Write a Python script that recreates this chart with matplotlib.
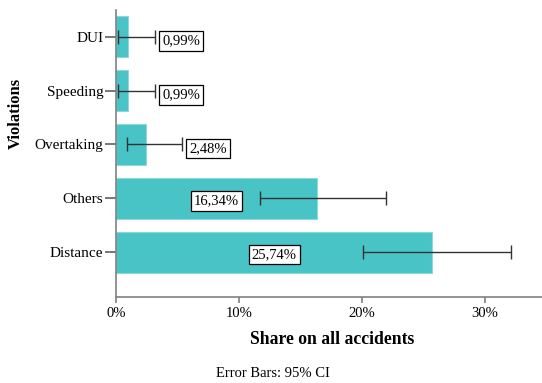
import matplotlib
matplotlib.use("Agg")
import matplotlib.pyplot as plt
import numpy as np

categories = ["Distance", "Others", "Overtaking", "Speeding", "DUI"]
shares = [25.74, 16.34, 2.48, 0.99, 0.99]
ci_low = [20.1, 11.7, 0.9, 0.2, 0.2]
ci_high = [32.1, 22.0, 5.4, 3.2, 3.2]
value_labels = ["25,74%", "16,34%", "2,48%", "0,99%", "0,99%"]
x_ticks = [0, 10, 20, 30]
x_tick_labels = ["0%", "10%", "20%", "30%"]

plt.rcParams["font.family"] = ["Liberation Serif", "DejaVu Serif"]

fig = plt.figure(figsize=(5.42, 3.83), dpi=100)
ax = fig.add_axes([0.214, 0.2253, 0.786, 0.7487])

pos = np.arange(len(categories))
bar_color = "#48C3C6"
ax.barh(pos, shares, height=0.76, color=bar_color, edgecolor="#8ed8da",
        linewidth=0.8, zorder=2)

shares_a = np.array(shares)
xerr = np.vstack([shares_a - np.array(ci_low), np.array(ci_high) - shares_a])
ax.errorbar(shares, pos, xerr=xerr, fmt="none", ecolor="#333333",
            elinewidth=1.0, capsize=5, capthick=1.0, zorder=3)

box = dict(boxstyle="square,pad=0.22", facecolor="white", edgecolor="black", linewidth=0.9)
for i, (v, hi, lab) in enumerate(zip(shares, ci_high, value_labels)):
    if v > 10:
        ax.text(v / 2, pos[i] - 0.05, lab, ha="center", va="center",
                fontsize=10.5, bbox=box, zorder=4)
    else:
        ax.text(hi + 0.55, pos[i] - 0.08, lab, ha="left", va="center",
                fontsize=10.5, bbox=box, zorder=4)

ax.set_yticks(pos)
ax.set_yticklabels(categories, fontsize=11)
ax.set_xticks(x_ticks)
ax.set_xticklabels(x_tick_labels, fontsize=10.5)
ax.set_xlim(0, 34.65)
ax.set_ylim(-0.83, 4.5)

for side in ["top", "right"]:
    ax.spines[side].set_visible(False)
for side in ["left", "bottom"]:
    ax.spines[side].set_color("#808080")
    ax.spines[side].set_linewidth(1.2)
ax.tick_params(axis="y", length=8, width=1.2, color="#606060", pad=1)
ax.tick_params(axis="x", length=4.5, width=1.2, color="#808080", pad=3)

ax.set_xlabel("Share on all accidents", fontsize=12.7, fontweight="bold")
ax.xaxis.set_label_coords(0.507, -0.1475)
ax.xaxis.label.set_va("center")
ax.set_ylabel("Violations", fontsize=12, fontweight="bold")
ax.yaxis.set_label_coords(-0.2347, 0.639)
ax.yaxis.label.set_va("center")

fig.text(0.503, 0.0235, "Error Bars: 95% CI", ha="center", va="center", fontsize=10.5)

fig.savefig("out.png", dpi=100)
